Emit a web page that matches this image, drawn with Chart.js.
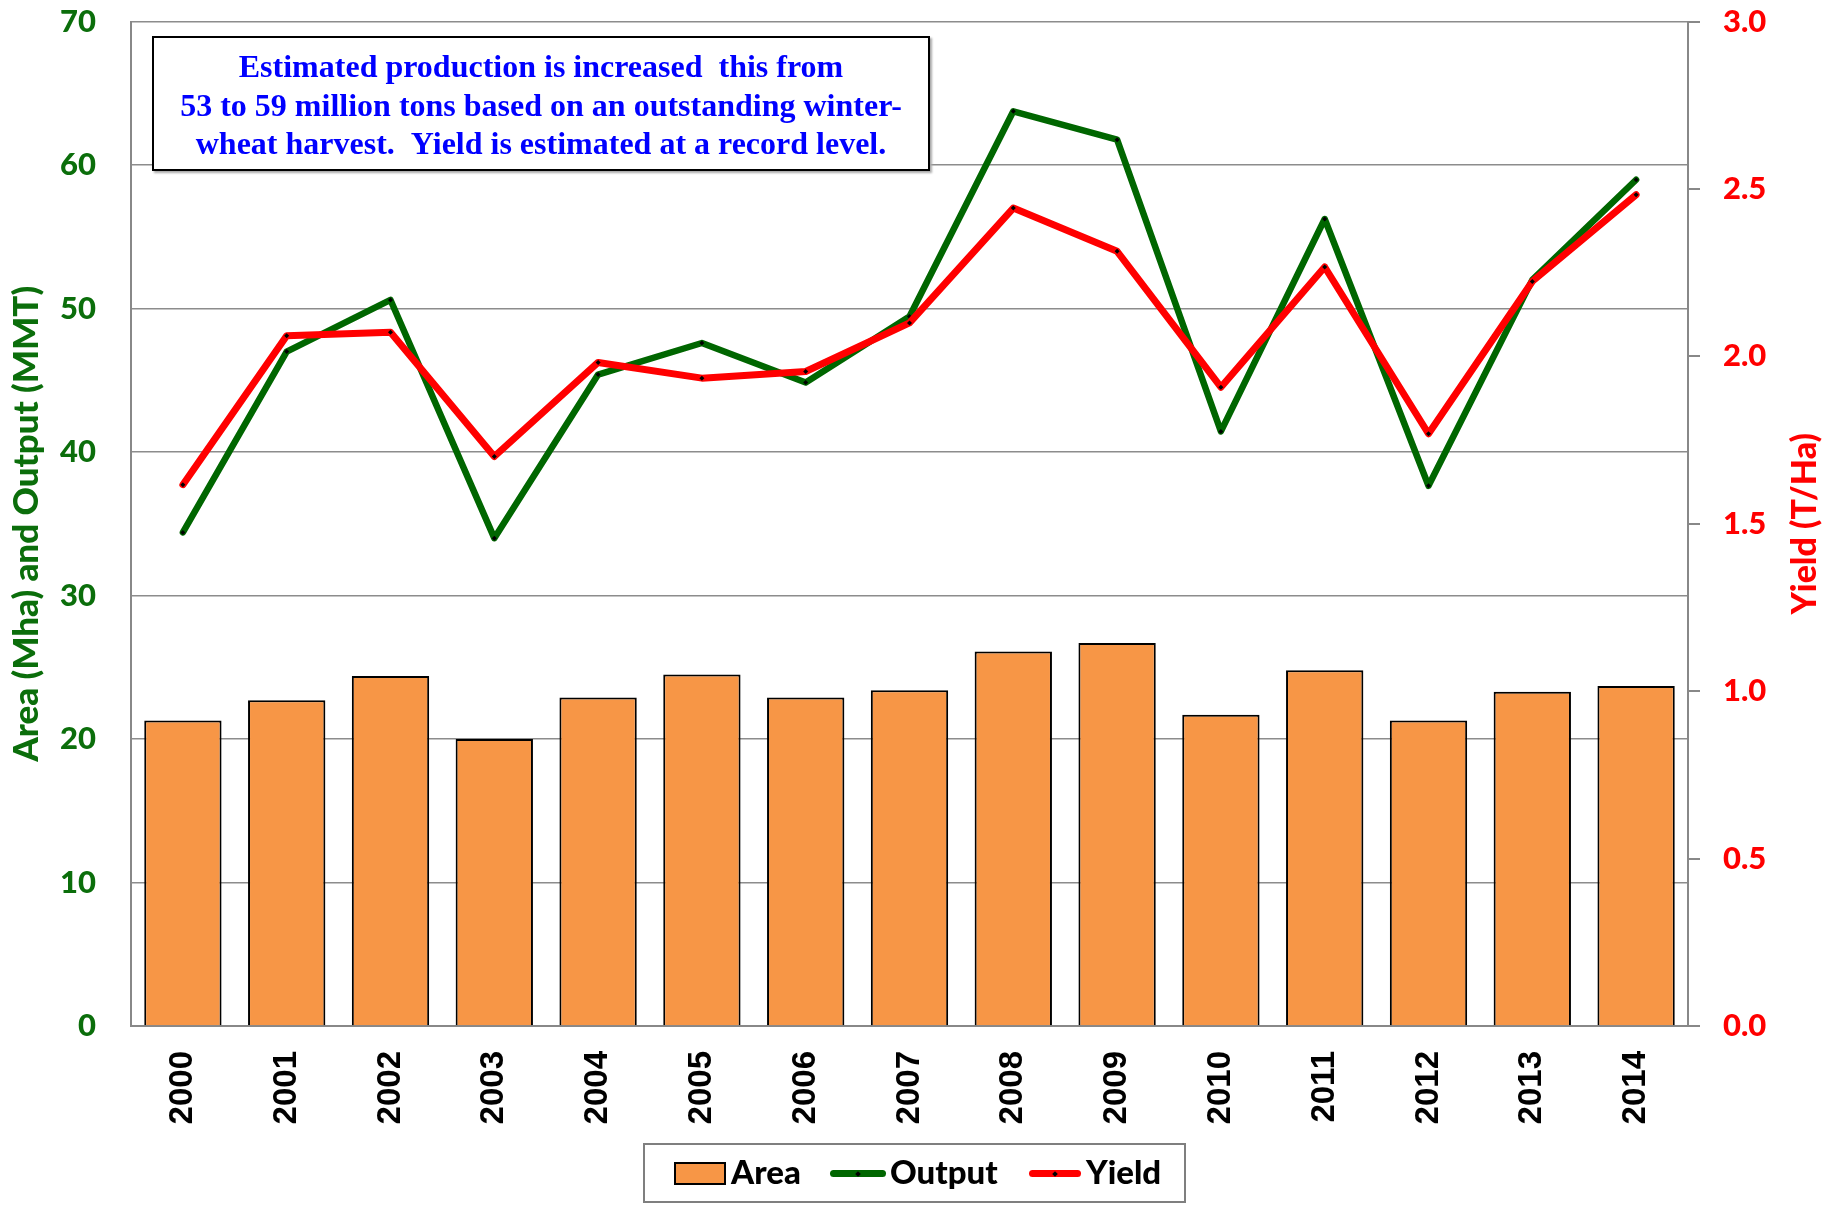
<!DOCTYPE html>
<html><head><meta charset="utf-8">
<script src="https://cdn.jsdelivr.net/npm/chart.js@4"></script>
<style>
body{margin:0;background:#fff;}
#wrap{position:relative;width:1839px;height:1207px;overflow:hidden;}
#c{position:absolute;left:0;top:-32px;}
#note{position:absolute;left:152px;top:36px;width:774px;height:122px;padding-top:9px;border:2px solid #000;background:#fff;box-shadow:2px 2px 2px #aaa;font:bold 32px "Liberation Serif";color:#0000ff;text-align:center;line-height:38.5px;white-space:nowrap;}
#legend{position:absolute;left:643px;top:1143px;width:539px;height:56px;border:2px solid #7f7f7f;background:#fff;}
.lt{position:absolute;top:6px;height:56px;line-height:56px;font:900 33px Lato;color:#000;}
.patch{position:absolute;top:17px;width:48px;height:19px;background:#F79646;border:2px solid #000;}
.ln{position:absolute;top:25px;height:7px;border-radius:4px;}
.dot{position:absolute;top:1.5px;width:4px;height:4px;background:#000;transform:rotate(45deg);}
</style></head>
<body><div id="wrap">
<canvas id="c" width="1839" height="1239"></canvas>
<div id="note">Estimated production is increased &nbsp;this from<br>53 to 59 million tons based on an outstanding winter-<br>wheat harvest. &nbsp;Yield is estimated at a record level.</div>
<div id="legend">
  <div class="patch" style="left:29px"></div><div class="lt" style="left:86px">Area</div>
  <div class="ln" style="left:185px;width:56px;background:#006600"><div class="dot" style="left:26px"></div></div><div class="lt" style="left:245px">Output</div>
  <div class="ln" style="left:384px;width:52px;background:#ff0000"><div class="dot" style="left:24px"></div></div><div class="lt" style="left:441px">Yield</div>
</div>
</div>
<script>
const years = ['2000','2001','2002','2003','2004','2005','2006','2007','2008','2009','2010','2011','2012','2013','2014'];
const areaMha = [21.3,22.7,24.4,20.0,22.9,24.5,22.9,23.4,26.1,26.7,21.7,24.8,21.3,23.3,23.7];
const outputMMT = [34.4,47.0,50.6,34.0,45.4,47.6,44.85,49.45,63.75,61.77,41.44,56.24,37.65,52.0,58.98];
const yieldTHa = [1.617,2.062,2.072,1.701,1.982,1.935,1.955,2.10,2.443,2.314,1.908,2.267,1.769,2.224,2.483];
const leftTicks = {min:0,max:70,step:10};
const rightTicks = {min:0,max:3,step:0.5};

const rightTitle = {
  id:'rightTitle',
  afterDraw(chart){
    const ctx = chart.ctx, s = chart.scales.y2;
    ctx.save();
    ctx.translate(s.right - 34, (s.top + s.bottom)/2);
    ctx.rotate(-Math.PI/2);
    ctx.font = '900 34px Lato';
    ctx.fillStyle = '#ff0000';
    ctx.textAlign = 'center';
    ctx.textBaseline = 'middle';
    ctx.fillText('Yield (T/Ha)', 0, 0);
    ctx.restore();
  }
};

new Chart(document.getElementById('c'), {
  data: {
    labels: years,
    datasets: [
      {type:'line', label:'Yield', data:yieldTHa, yAxisID:'y2', order:0,
       borderColor:'#ff0000', borderWidth:7, borderCapStyle:'round', borderJoinStyle:'round',
       pointStyle:'rectRot', pointRadius:2.5, pointBackgroundColor:'#000', pointBorderWidth:0, tension:0},
      {type:'line', label:'Output', data:outputMMT, yAxisID:'y', order:1,
       borderColor:'#006600', borderWidth:6.5, borderCapStyle:'round', borderJoinStyle:'round',
       pointStyle:'rectRot', pointRadius:2.5, pointBackgroundColor:'#000', pointBorderWidth:0, tension:0},
      {type:'bar', label:'Area', data:areaMha, yAxisID:'y', order:2,
       backgroundColor:'#F79646', borderColor:'#000', borderWidth:2,
       categoryPercentage:1, barPercentage:0.745}
    ]
  },
  options: {
    responsive:false, animation:false,
    layout:{padding:{top:0,left:0,right:0,bottom:0}},
    plugins:{legend:{display:false}, tooltip:{enabled:false}},
    scales:{
      x:{
        grid:{display:false},
        border:{display:true,color:'#888',width:2},
        ticks:{color:'#000',font:{family:'Liberation Sans',weight:'bold',size:33},minRotation:90,maxRotation:90,autoSkip:false,padding:17},
        afterFit(s){ s.height = 181; }
      },
      y:{
        position:'left', min:leftTicks.min, max:leftTicks.max,
        grid:{color:'#8c8c8c',lineWidth:1.5,drawTicks:false},
        border:{color:'#888',width:2},
        ticks:{stepSize:leftTicks.step,color:'#0b6e0b',font:{family:'Lato',weight:'900',size:31},padding:35},
        title:{display:true,text:'Area (Mha) and Output (MMT)',color:'#0b6e0b',font:{family:'Lato',weight:'900',size:35},padding:{top:6,bottom:0}},
        afterFit(s){ s.width = 131; }
      },
      y2:{
        position:'right', min:rightTicks.min, max:rightTicks.max,
        grid:{drawOnChartArea:false,drawTicks:true,tickLength:12,color:'#888',lineWidth:2},
        border:{color:'#888',width:2},
        ticks:{stepSize:rightTicks.step,color:'#ff0000',font:{family:'Lato',weight:'900',size:31},padding:23,
               callback:v=>Number(v).toFixed(1)},
        afterFit(s){ s.width = 151; }
      }
    }
  },
  plugins:[rightTitle]
});
</script>
</body></html>
